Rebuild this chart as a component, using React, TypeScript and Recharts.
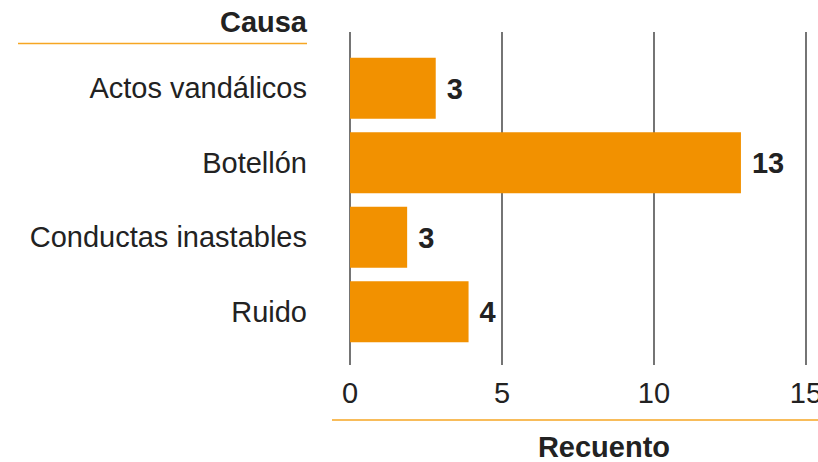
import React from "react";
import { BarChart, Bar, XAxis, YAxis, CartesianGrid, LabelList } from "recharts";

const categories = ["Actos vandálicos", "Botellón", "Conductas inastables", "Ruido"];
const barValues = [2.82, 12.86, 1.88, 3.9];
const valueLabels = ["3", "13", "3", "4"];
const xTicks = [0, 5, 10, 15];

const data = categories.map((c, i) => ({ causa: c, recuento: barValues[i], label: valueLabels[i] }));

const FONT = "'Liberation Sans', Arial, Helvetica, sans-serif";
const ORANGE = "#F29100";
const LINE_ORANGE = "#F6A623";
const TEXT = "#222222";
const FS = 29;

const YTick = (props: any) => {
  const { y, payload } = props;
  return (
    <text x={307} y={y} dy="0.34em" textAnchor="end" fontFamily={FONT} fontSize={FS} fill={TEXT}>
      {payload.value}
    </text>
  );
};

const XTick = (props: any) => {
  const { x, payload } = props;
  return (
    <text x={x} y={403} textAnchor="middle" fontFamily={FONT} fontSize={FS} fill={TEXT}>
      {payload.value}
    </text>
  );
};

export default function App() {
  return (
    <div style={{ position: "absolute", left: 0, top: 0, width: 818, height: 462, background: "#fff" }}>
      <BarChart
        width={818}
        height={462}
        data={data}
        layout="vertical"
        margin={{ top: 32, right: 12, bottom: 67, left: 0 }}
        barCategoryGap="9.2%"
      >
        <CartesianGrid horizontal={false} vertical={true} stroke="#3a3a3a" strokeWidth={1.4} />
        <XAxis
          type="number"
          domain={[0, 15]}
          ticks={xTicks}
          axisLine={false}
          tickLine={false}
          tick={<XTick />}
          interval={0}
          height={30}
        />
        <YAxis
          type="category"
          dataKey="causa"
          width={350}
          axisLine={false}
          tickLine={false}
          tick={<YTick />}
          padding={{ top: 19, bottom: 16 }}
          interval={0}
        />
        <Bar dataKey="recuento" fill={ORANGE} isAnimationActive={false}>
          <LabelList
            dataKey="label"
            position="right"
            offset={11}
            fontFamily={FONT}
            fontSize={FS}
            fontWeight="bold"
            fill={TEXT}
          />
        </Bar>
      </BarChart>
      <svg
        width={818}
        height={462}
        style={{ position: "absolute", left: 0, top: 0, pointerEvents: "none" }}
      >
        <text x={307} y={32} textAnchor="end" fontFamily={FONT} fontSize={FS} fontWeight="bold" fill={TEXT}>
          Causa
        </text>
        <line x1={18} x2={307} y1={43.5} y2={43.5} stroke={LINE_ORANGE} strokeWidth={1.5} />
        <line x1={332} x2={818} y1={420} y2={420} stroke={LINE_ORANGE} strokeWidth={1.5} />
        <text x={604} y={457} textAnchor="middle" fontFamily={FONT} fontSize={FS} fontWeight="bold" fill={TEXT}>
          Recuento
        </text>
      </svg>
    </div>
  );
}
